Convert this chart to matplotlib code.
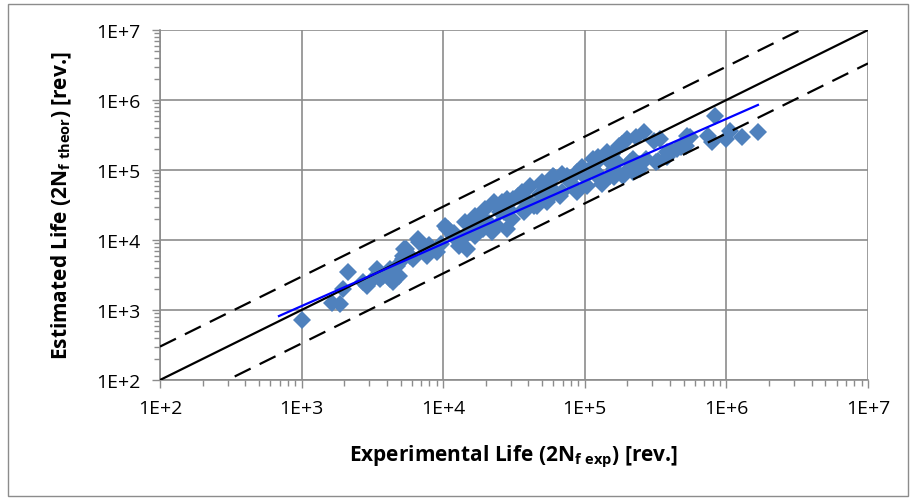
import matplotlib
matplotlib.use("Agg")
import matplotlib.pyplot as plt
from matplotlib.patches import Rectangle
from matplotlib.ticker import LogLocator, FixedLocator, NullFormatter

plt.rcParams["font.family"] = ["Open Sans", "DejaVu Sans"]
plt.rcParams["mathtext.fontset"] = "custom"
plt.rcParams["mathtext.rm"] = "Open Sans:bold"

# experimental vs estimated life [rev.]
exp_life = [
    1000, 1650, 1870, 1950, 2130, 2700, 2900, 3200, 3400, 3600,
    3750, 4200, 4200, 4400, 4700, 4900, 5200, 5200, 5300, 5500,
    6100, 6600, 6800, 7600, 7700, 8400, 9100, 10300, 10600, 10800,
    11700, 13000, 13500, 14200, 14700, 16000, 16800, 16800, 17000, 19000,
    19000, 19700, 22000, 23000, 24000, 25000, 26000, 27000, 28000, 28000,
    30500, 31000, 33500, 35000, 36000, 37000, 37000, 41000, 44000, 46000,
    50000, 51000, 54000, 55000, 60000, 61000, 67000, 69000, 69000, 75000,
    88000, 88000, 95000, 103000, 114000, 114000, 124000, 128000, 128000, 132000,
    143000, 143000, 150000, 155000, 160000, 160000, 175000, 183000, 185000, 200000,
    200000, 210000, 220000, 220000, 230000, 240000, 245000, 260000, 270000, 310000,
    320000, 330000, 340000, 380000, 380000, 410000, 450000, 480000, 520000, 530000,
    550000, 740000, 790000, 830000, 1000000, 1060000, 1290000, 1670000,
    5800, 8000, 9600, 12000, 15500, 18000, 21000, 29000, 40000, 48000,
    58000, 80000, 100000, 118000, 170000,
]
est_life = [
    720, 1260, 1220, 2000, 3500, 2500, 2200, 2770, 3850, 2770,
    3060, 2760, 3850, 2500, 4270, 3060, 5900, 5300, 7400, 7400,
    5300, 10300, 9300, 6700, 5900, 7400, 6700, 16000, 14400, 14400,
    11400, 8200, 10300, 18000, 7400, 18000, 22000, 11400, 20000, 14400,
    20000, 28000, 13000, 35000, 16000, 25000, 35000, 25000, 14400, 38500,
    20000, 38500, 42000, 42000, 48500, 25000, 28000, 59000, 30600, 30600,
    67000, 59000, 35000, 38500, 82000, 79000, 42000, 48500, 88000, 82000,
    94000, 48500, 110000, 59000, 103000, 144000, 153000, 74000, 82000, 63000,
    144000, 180000, 82000, 170000, 79000, 103000, 220000, 235000, 82000, 277000,
    97000, 130000, 144000, 94000, 296000, 122000, 103000, 350000, 144000, 260000,
    130000, 135000, 280000, 153000, 180000, 186000, 200000, 210000, 220000, 306000,
    300000, 306000, 250000, 590000, 277000, 360000, 296000, 350000,
    6000, 8600, 8800, 12500, 13500, 16500, 17500, 27000, 36000, 45000,
    55000, 65000, 80000, 120000, 130000,
]

# power-law trend line end points
trend_x = [692, 1670000]
trend_y = [820, 850000]

# 1:1 line and factor-of-3 scatter band
ref_line = [1e2, 1e7]
band = 3.0

fig = plt.figure(figsize=(9.15, 5.02), dpi=100)
fig.patch.set_facecolor("white")
fig.add_artist(Rectangle((8 / 915, 5 / 502), 900 / 915, 492 / 502,
                         transform=fig.transFigure, fill=False,
                         edgecolor="#8c8c8c", linewidth=1.0))

ax = fig.add_axes([160 / 915, 1 - 381 / 502, 708 / 915, 350 / 502])
ax.set_xscale("log")
ax.set_yscale("log")
ax.set_xlim(1e2, 1e7)
ax.set_ylim(1e2, 1e7)

ax.plot(exp_life, est_life, linestyle="none", marker="D", markersize=9.5,
        color="#4F81BD", markeredgewidth=0, zorder=2)

ax.plot(ref_line, ref_line, color="black", linewidth=1.6, zorder=3)
ax.plot(ref_line, [v * band for v in ref_line], color="black", linewidth=1.6,
        dashes=(8, 4.5), zorder=3)
ax.plot(ref_line, [v / band for v in ref_line], color="black", linewidth=1.6,
        dashes=(8, 4.5), zorder=3)
ax.plot(trend_x, trend_y, color="#0000FF", linewidth=1.6, zorder=4)

# Excel-like axes
ax.grid(which="major", color="#8c8c8c", linewidth=1.2)
ax.set_axisbelow(True)
for side in ("top", "right"):
    ax.spines[side].set_visible(False)
for side in ("left", "bottom"):
    ax.spines[side].set_color("#8c8c8c")
    ax.spines[side].set_linewidth(1.2)

decades = [1e2, 1e3, 1e4, 1e5, 1e6, 1e7]
labels = ["1E+2", "1E+3", "1E+4", "1E+5", "1E+6", "1E+7"]
ax.xaxis.set_major_locator(FixedLocator(decades))
ax.yaxis.set_major_locator(FixedLocator(decades))
ax.set_xticklabels(labels)
ax.set_yticklabels(labels)
ax.xaxis.set_minor_locator(LogLocator(base=10, subs=range(2, 10), numticks=20))
ax.yaxis.set_minor_locator(LogLocator(base=10, subs=range(2, 10), numticks=20))
ax.xaxis.set_minor_formatter(NullFormatter())
ax.yaxis.set_minor_formatter(NullFormatter())
ax.tick_params(which="both", direction="out", color="#8c8c8c", width=1.0)
ax.tick_params(which="major", length=6, labelsize=14, pad=8)
ax.tick_params(which="minor", length=4)

ax.set_xlabel(r"Experimental Life (2N$_{\mathrm{f\ exp}}$) [rev.]",
              fontsize=15, fontweight="bold", labelpad=18)
ax.set_ylabel(r"Estimated Life (2N$_{\mathrm{f\ theor}}$) [rev.]",
              fontsize=15, fontweight="bold", labelpad=16)

fig.savefig("out.png", dpi=100)
